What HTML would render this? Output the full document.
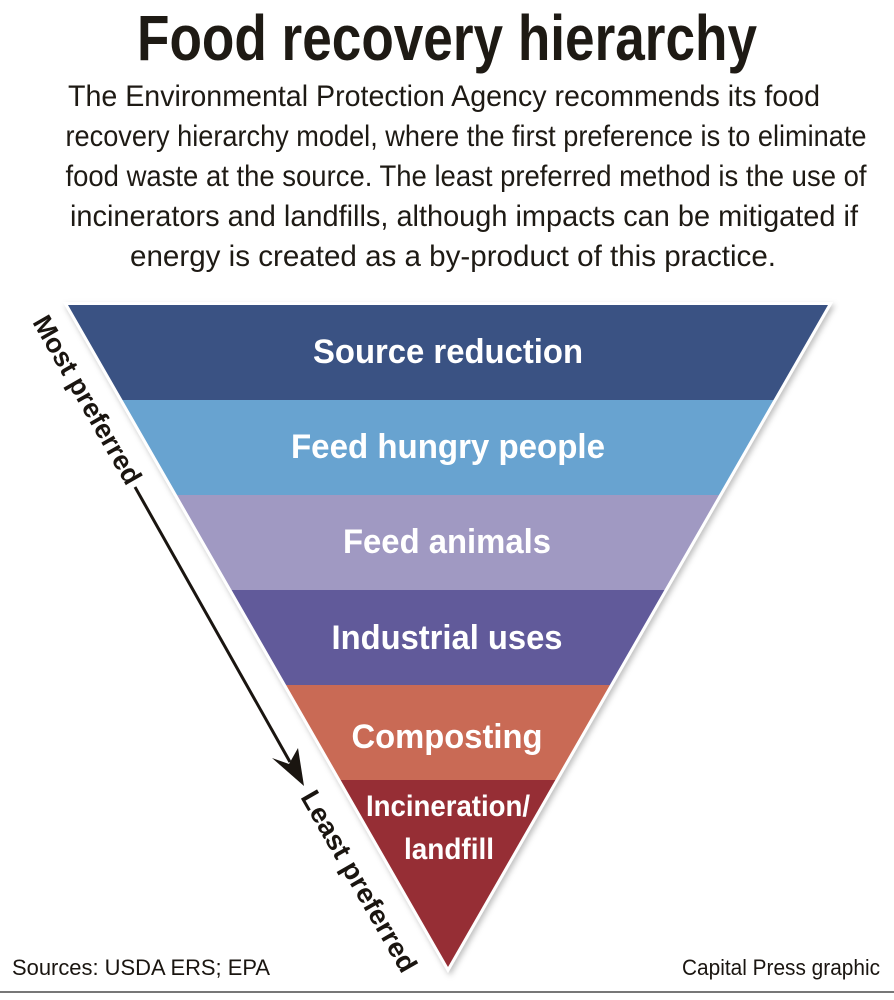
<!DOCTYPE html>
<html><head><meta charset="utf-8"><style>
html,body{margin:0;padding:0;background:#fff;}
svg{display:block;}
text{font-family:"Liberation Sans Narrow","Liberation Sans",sans-serif;}
</style></head><body>
<svg width="894" height="1000" viewBox="0 0 894 1000" xmlns="http://www.w3.org/2000/svg">
<defs>
<clipPath id="tri"><polygon points="68,305 828,305 448,967"/></clipPath>
<filter id="sh" x="-5%" y="-5%" width="110%" height="110%"><feDropShadow dx="2" dy="3" stdDeviation="3" flood-color="#000" flood-opacity="0.25"/></filter>
</defs>
<text x="447" y="60" font-size="64" font-weight="bold" fill="#1e1a14" text-anchor="middle" textLength="620" lengthAdjust="spacingAndGlyphs">Food recovery hierarchy</text>
<g font-size="30" fill="#1e1a14" text-anchor="middle">
<text x="444" y="106" textLength="752" lengthAdjust="spacingAndGlyphs">The Environmental Protection Agency recommends its food</text>
<text x="466" y="146" textLength="801" lengthAdjust="spacingAndGlyphs">recovery hierarchy model, where the first preference is to eliminate</text>
<text x="466" y="186" textLength="801" lengthAdjust="spacingAndGlyphs">food waste at the source. The least preferred method is the use of</text>
<text x="464" y="226" textLength="788" lengthAdjust="spacingAndGlyphs">incinerators and landfills, although impacts can be mitigated if</text>
<text x="453" y="266" textLength="646" lengthAdjust="spacingAndGlyphs">energy is created as a by-product of this practice.</text>
</g>
<polygon points="68,305 828,305 448,967" fill="#fff" stroke="#fff" stroke-width="6" filter="url(#sh)"/>
<g clip-path="url(#tri)">
<rect x="0" y="305" width="894" height="95" fill="#3a5283"/>
<rect x="0" y="400" width="894" height="95" fill="#68a3d0"/>
<rect x="0" y="495" width="894" height="95" fill="#a099c2"/>
<rect x="0" y="590" width="894" height="95" fill="#615a9a"/>
<rect x="0" y="685" width="894" height="95" fill="#c96a55"/>
<rect x="0" y="780" width="894" height="190" fill="#962e35"/>
</g>
<g font-family="Liberation Sans" font-weight="bold" fill="#fff" text-anchor="middle" font-size="34">
<text x="448" y="363" textLength="270" lengthAdjust="spacingAndGlyphs">Source reduction</text>
<text x="448" y="458" textLength="314" lengthAdjust="spacingAndGlyphs">Feed hungry people</text>
<text x="447" y="553" textLength="208" lengthAdjust="spacingAndGlyphs">Feed animals</text>
<text x="447" y="649" textLength="231" lengthAdjust="spacingAndGlyphs">Industrial uses</text>
<text x="447" y="748" textLength="191" lengthAdjust="spacingAndGlyphs">Composting</text>
</g>
<g font-weight="bold" fill="#fff" text-anchor="middle" font-size="30">
<text x="448" y="816" textLength="164" lengthAdjust="spacingAndGlyphs">Incineration/</text>
<text x="449" y="859" textLength="90" lengthAdjust="spacingAndGlyphs">landfill</text>
</g>
<g font-weight="bold" fill="#1a1510" font-size="27">
<text transform="translate(32,322) rotate(60.1)" textLength="190" lengthAdjust="spacingAndGlyphs">Most preferred</text>
<text transform="translate(300,797) rotate(60.1)" textLength="205" lengthAdjust="spacingAndGlyphs">Least preferred</text>
</g>
<line x1="135" y1="487" x2="290" y2="762" stroke="#1a1510" stroke-width="3"/>
<polygon points="304,786 272,758 289,764 298,748" fill="#1a1510"/>
<text x="12" y="975" font-family="Liberation Sans" font-size="22" fill="#1a1510" textLength="258" lengthAdjust="spacingAndGlyphs">Sources: USDA ERS; EPA</text>
<text x="880" y="975" font-family="Liberation Sans" font-size="22" fill="#1a1510" text-anchor="end" textLength="198" lengthAdjust="spacingAndGlyphs">Capital Press graphic</text>
<rect x="0" y="991" width="894" height="2" fill="#777"/>
</svg>
</body></html>
